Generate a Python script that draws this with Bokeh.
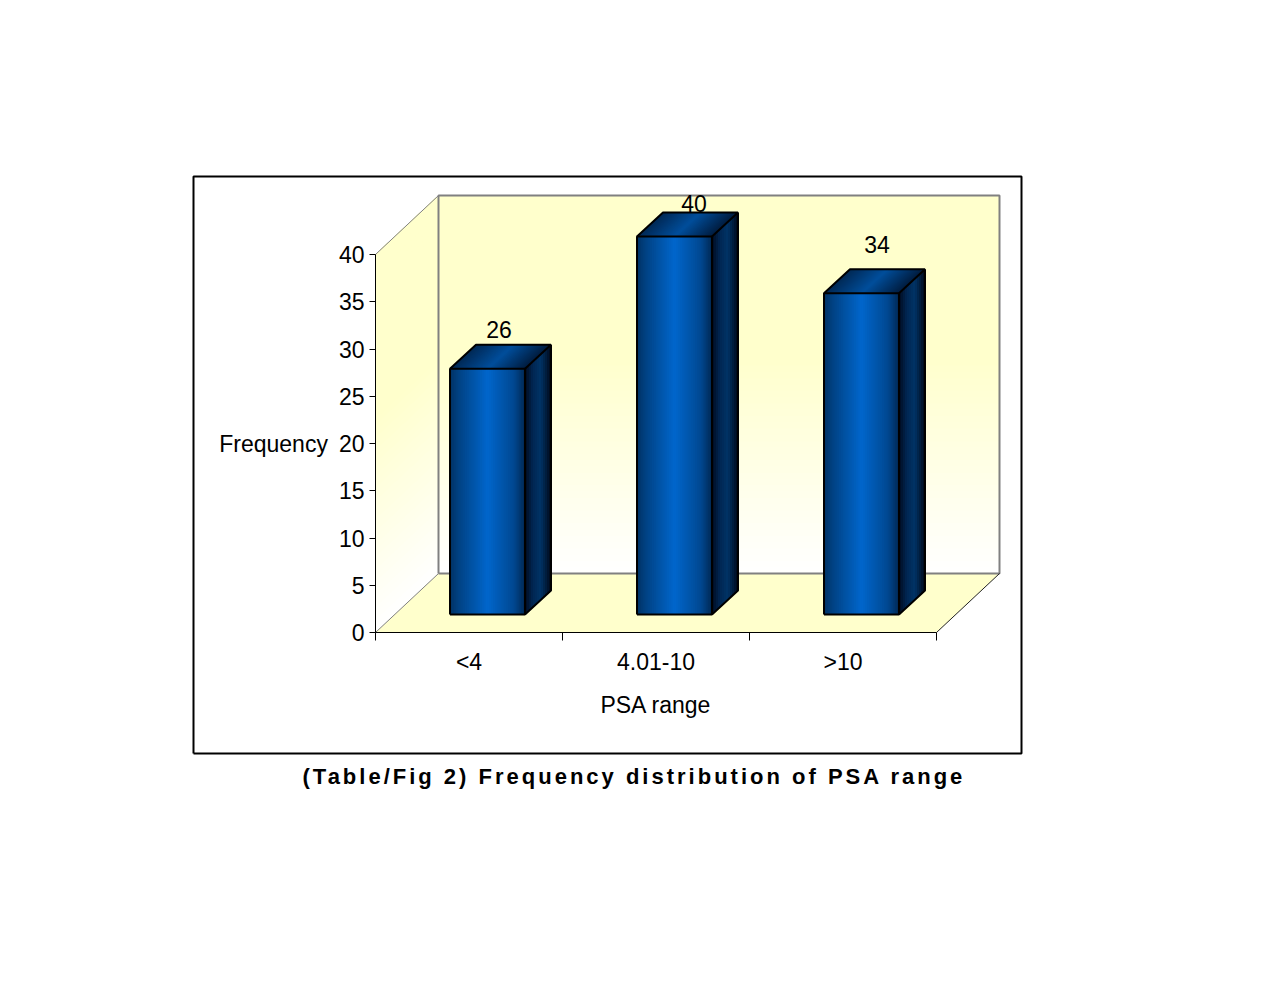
from bokeh.plotting import figure
from bokeh.embed import file_html
from bokeh.resources import INLINE
from bokeh.models import Range1d, FixedTicker, LinearAxis
from bokeh.layouts import column
from bokeh.core.properties import value

# ---- data ----
categories = ["<4", "4.01-10", ">10"]
frequency = [26, 40, 34]
y_ticks = [0, 5, 10, 15, 20, 25, 30, 35, 40]
x_title = "PSA range"
y_title = "Frequency"
caption = "(Table/Fig 2) Frequency distribution of PSA range"

# ---- layout: pixels per unit and the page position of the value/category origin ----
PX_C = 187.0      # px per category
PX_V = 9.45       # px per frequency unit
OX, OY = 375, 632  # origin on the page
BOX = (193, 176, 1021, 753)
FRAME = (187, 170, 1029, 760)
W, H = 1270, 990
FONT = "Liberation Sans"

def cx(px):  # horizontal pixel length -> category units
    return px / PX_C
def vy(px):  # vertical pixel length -> value units
    return px / PX_V

p = figure(width=W, height=H, output_backend="svg", toolbar_location=None,
           x_axis_location=None, y_axis_location=None, tools="",
           x_range=Range1d(cx(FRAME[0] - OX), cx(FRAME[2] - OX)),
           y_range=Range1d(vy(OY - FRAME[3]), vy(OY - FRAME[1])),
           min_border_left=FRAME[0], min_border_right=W - FRAME[2],
           min_border_top=FRAME[1], min_border_bottom=H - FRAME[3],
           background_fill_color="white", border_fill_color="white",
           outline_line_color=None)
p.grid.visible = False

n_cat = len(categories)
v_max = max(y_ticks)
depth_c, depth_v = cx(63), vy(59)

def mix(a, b, t):
    return "#%02x%02x%02x" % tuple(int(round(a[i] + (b[i] - a[i]) * t)) for i in range(3))

def ramp(stops, t):
    for (t0, c0), (t1, c1) in zip(stops, stops[1:]):
        if t <= t1:
            return mix(c0, c1, (t - t0) / (t1 - t0))
    return mix(stops[-1][1], stops[-1][1], 0)

# outer box
bx0, bx1 = cx(BOX[0] - OX), cx(BOX[2] - OX)
by0, by1 = vy(OY - BOX[3]), vy(OY - BOX[1])
p.line([bx0, bx1, bx1, bx0, bx0], [by0, by0, by1, by1, by0], line_color="black", line_width=2)

# ---- walls (vertical gradient from white at the base to pale yellow) ----
wall_top = (255, 255, 204)
wall_bot = (255, 255, 255)
N = 60
for i in range(N):
    a = v_max * i / N
    col = mix(wall_bot, wall_top, min(1, (i + 0.5) / N * 1.75))
    p.patch([depth_c, n_cat + depth_c, n_cat + depth_c, depth_c],
            [a + depth_v, a + depth_v, v_max + depth_v, v_max + depth_v],
            fill_color=col, line_color=None)
    p.patch([0, depth_c, depth_c, 0], [a, a + depth_v, v_max + depth_v, v_max],
            fill_color=col, line_color=None)

# floor
p.patch([0, n_cat, n_cat + depth_c, depth_c], [0, 0, depth_v, depth_v],
        fill_color="#ffffcc", line_color=None)

# wall edges
grey = "#808080"
p.line([depth_c, n_cat + depth_c, n_cat + depth_c, depth_c, depth_c],
       [depth_v, depth_v, v_max + depth_v, v_max + depth_v, depth_v],
       line_color=grey, line_width=2)
p.line([0, depth_c], [v_max, v_max + depth_v], line_color=grey, line_width=1)
p.line([0, depth_c], [0, depth_v], line_color=grey, line_width=1)
p.line([n_cat, n_cat + depth_c], [0, depth_v], line_color="#222222", line_width=1)

# ---- bars ----
bar_w = cx(75)
shift_c, shift_v = cx(18.5), vy(18)
bd_c, bd_v = cx(26), vy(24)

front_stops = [(0, (0, 50, 100)), (0.12, (0, 66, 132)), (0.5, (0, 102, 204)), (0.85, (0, 72, 145)), (1, (0, 40, 84))]
side_stops = [(0, (0, 10, 30)), (0.3, (0, 38, 82)), (0.6, (0, 51, 102)), (1, (0, 8, 24))]
top_stops = [(0, (0, 40, 84)), (0.5, (0, 78, 155)), (1, (0, 28, 62))]

for i, val in enumerate(frequency):
    x0 = i + 0.5 - bar_w / 2 + shift_c
    x1 = x0 + bar_w
    y0 = shift_v
    y1 = y0 + val
    S = 40
    for k in range(S):
        a = x0 + bar_w * k / S
        col = ramp(front_stops, (k + 0.5) / S)
        p.patch([a, x1, x1, a], [y0, y0, y1, y1], fill_color=col, line_color=None)
    S = 13
    for k in range(S):
        t0 = k / S
        col = ramp(side_stops, (k + 0.5) / S)
        p.patch([x1 + bd_c * t0, x1 + bd_c, x1 + bd_c, x1 + bd_c * t0],
                [y0 + bd_v * t0, y0 + bd_v, y1 + bd_v, y1 + bd_v * t0],
                fill_color=col, line_color=None)
    S = 40
    for k in range(S):
        t0 = k / S
        col = ramp(top_stops, (k + 0.5) / S)
        lo = x0 + bar_w * t0
        p.patch([lo, x1, x1 + bd_c, lo + bd_c], [y1, y1, y1 + bd_v, y1 + bd_v],
                fill_color=col, line_color=None)
    # outlines
    p.line([x0, x1, x1, x0, x0], [y0, y0, y1, y1, y0], line_color="black", line_width=2)
    p.line([x0, x0 + bd_c, x1 + bd_c, x1], [y1, y1 + bd_v, y1 + bd_v, y1], line_color="black", line_width=2)
    p.line([x1 + bd_c, x1 + bd_c, x1], [y1 + bd_v, y0 + bd_v, y0], line_color="black", line_width=2)

# ---- value labels ----
label_dx = [11.5, 19.5, 15.5]   # px right of the front-face centre
label_dy = [15, 9, 25]          # px above the rear top edge
for i, val in enumerate(frequency):
    p.text([i + 0.5 + shift_c], [val + shift_v + bd_v], text=[str(val)],
           x_offset=[label_dx[i]], y_offset=[-label_dy[i]],
           text_align="center", text_baseline="middle",
           text_font=value(FONT), text_font_size="23px", text_color="black")

# ---- axes ----
yax = LinearAxis(ticker=FixedTicker(ticks=y_ticks), bounds=(0, v_max), fixed_location=0,
                 axis_label=y_title, axis_label_orientation="horizontal",
                 axis_label_standoff=8, axis_label_text_font=FONT,
                 axis_label_text_font_size="23px", axis_label_text_font_style="normal",
                 axis_label_text_color="black",
                 major_label_text_font=FONT, major_label_text_font_size="23px",
                 major_label_text_color="black",
                 major_label_standoff=5, major_tick_in=0, major_tick_out=6,
                 minor_tick_in=0, minor_tick_out=0,
                 axis_line_color="black", major_tick_line_color="black")
p.add_layout(yax, "left")

xax = LinearAxis(ticker=FixedTicker(ticks=[i + 0.5 for i in range(n_cat)],
                                    minor_ticks=list(range(n_cat + 1))),
                 bounds=(0, n_cat), fixed_location=0,
                 major_label_overrides={i + 0.5: c for i, c in enumerate(categories)},
                 axis_label=x_title, axis_label_standoff=14, axis_label_text_font=FONT,
                 axis_label_text_font_size="23px", axis_label_text_font_style="normal",
                 axis_label_text_color="black",
                 major_label_text_font=FONT, major_label_text_font_size="23px",
                 major_label_text_color="black",
                 major_label_standoff=8, major_tick_in=0, major_tick_out=0,
                 minor_tick_in=0, minor_tick_out=8,
                 axis_line_color="black", minor_tick_line_color="black")
p.add_layout(xax, "below")

# ---- caption: its own small figure so that only it gets letter spacing ----
CAP_TOP, CAP_H = 760, 40
cap = figure(width=W, height=CAP_H, output_backend="svg", toolbar_location=None, tools="",
             x_axis_location=None, y_axis_location=None,
             x_range=Range1d(FRAME[0], FRAME[2]), y_range=Range1d(CAP_TOP + CAP_H, CAP_TOP),
             min_border=0, outline_line_color=None, background_fill_alpha=0, border_fill_alpha=0,
             margin=(CAP_TOP - H, 0, 0, 0),
             styles={"letter-spacing": "3px"})
cap.grid.visible = False
cap.text([302], [776], text=[caption], text_align="left", text_baseline="middle",
         text_font=value(FONT), text_font_size="22px", text_font_style="bold", text_color="black")

page = column(p, cap, spacing=0)
open("out.html", "w").write(file_html(page, INLINE))
